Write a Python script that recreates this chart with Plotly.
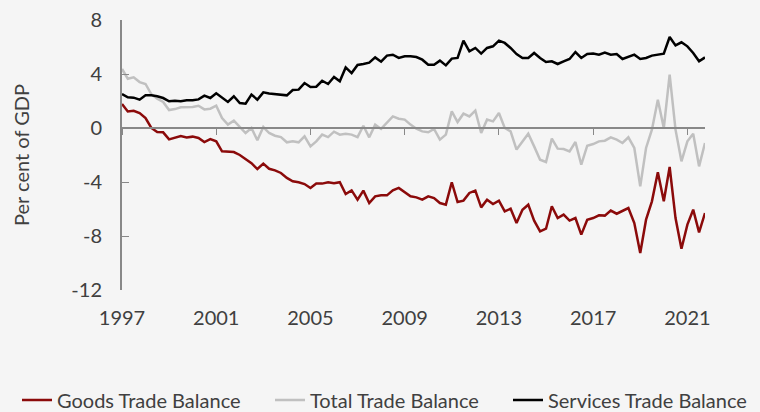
import pandas as pd
import plotly.graph_objects as go

quarters = pd.date_range("1997-01-01", periods=100, freq="QS")

goods = [1.78, 1.23, 1.28, 1.10, 0.74, 0.00, -0.30, -0.32, -0.84, -0.74,
         -0.60, -0.70, -0.64, -0.74, -1.04, -0.82, -0.99, -1.73, -1.75, -1.78,
         -2.00, -2.30, -2.60, -3.04, -2.64, -3.02, -3.14, -3.33, -3.70, -3.95,
         -4.02, -4.15, -4.44, -4.12, -4.12, -4.02, -4.10, -4.02, -4.89, -4.62,
         -5.31, -4.64, -5.56, -5.06, -4.99, -4.99, -4.62, -4.44, -4.77, -5.06,
         -5.14, -5.31, -5.06, -5.19, -5.56, -5.68, -4.02, -5.48, -5.38, -4.81,
         -4.64, -5.88, -5.31, -5.63, -5.38, -6.17, -5.98, -7.04, -6.05, -5.68,
         -6.86, -7.65, -7.46, -5.80, -6.67, -6.42, -6.86, -6.67, -7.90, -6.79,
         -6.67, -6.47, -6.49, -6.12, -6.35, -6.17, -5.93, -7.04, -9.26, -6.79,
         -5.43, -3.28, -5.43, -2.89, -6.67, -8.94, -7.16, -6.05, -7.73, -6.30]

total = [4.37, 3.65, 3.75, 3.40, 3.26, 2.50, 2.17, 1.93, 1.33, 1.40,
         1.53, 1.56, 1.56, 1.65, 1.38, 1.43, 1.65, 0.74, 0.25, 0.54,
         0.05, -0.37, 0.00, -0.91, 0.07, -0.37, -0.57, -0.67, -1.06, -0.99,
         -1.06, -0.62, -1.36, -0.99, -0.49, -0.67, -0.27, -0.49, -0.42, -0.49,
         -0.67, 0.17, -0.69, 0.25, -0.07, 0.37, 0.86, 0.69, 0.62, 0.25,
         -0.05, -0.25, -0.32, -0.07, -0.86, -0.49, 1.23, 0.44, 1.06, 0.86,
         1.28, -0.37, 0.62, 0.49, 1.11, 0.00, -0.25, -1.60, -0.99, -0.42,
         -1.36, -2.35, -2.52, -0.79, -1.53, -1.56, -1.73, -1.04, -2.72, -1.31,
         -1.19, -0.99, -0.94, -0.69, -0.86, -1.11, -0.69, -1.48, -4.32, -1.48,
         -0.12, 2.10, 0.00, 3.95, -0.12, -2.47, -0.99, -0.42, -2.84, -1.11]

services = [2.52, 2.27, 2.25, 2.10, 2.42, 2.42, 2.35, 2.22, 1.98, 2.02,
            1.98, 2.05, 2.05, 2.12, 2.40, 2.22, 2.57, 2.27, 1.93, 2.35,
            1.85, 1.80, 2.47, 2.10, 2.64, 2.55, 2.52, 2.47, 2.42, 2.81,
            2.84, 3.33, 3.04, 3.06, 3.50, 3.26, 3.78, 3.46, 4.49, 4.07,
            4.67, 4.74, 4.84, 5.23, 4.91, 5.36, 5.43, 5.19, 5.31, 5.31,
            5.26, 5.06, 4.69, 4.69, 4.99, 4.64, 5.14, 5.19, 6.47, 5.68,
            5.93, 5.51, 5.93, 6.05, 6.47, 6.30, 5.93, 5.48, 5.19, 5.19,
            5.56, 5.19, 4.89, 4.94, 4.74, 4.94, 5.11, 5.63, 5.19, 5.48,
            5.51, 5.43, 5.58, 5.43, 5.48, 5.11, 5.26, 5.43, 5.11, 5.19,
            5.36, 5.43, 5.51, 6.74, 6.12, 6.35, 6.05, 5.56, 4.94, 5.23]

series_names = ["Goods Trade Balance", "Total Trade Balance", "Services Trade Balance"]
series_colors = ["#8B0A0A", "#C0C0C0", "#000000"]
y_ticks = [8, 4, 0, -4, -8, -12]

FONT = "Lato"
TXT = "#404040"
AX = "#888888"
FS = 20
BG = "#F5F5F5"

legend_ids = ["legend", "legend2", "legend3"]
legend_left_px = [17, 270, 508]

fig = go.Figure()
for name, vals, col, lg in zip(series_names, [goods, total, services], series_colors, legend_ids):
    fig.add_trace(go.Scatter(x=quarters, y=vals, name=name, mode="lines",
                             line=dict(color=col, width=2.5), legend=lg))

# dummy trace to carry the bottom label axis
fig.add_trace(go.Scatter(x=[quarters[0], quarters[-1]], y=[None, None], xaxis="x2",
                         showlegend=False, hoverinfo="skip"))

xr = [quarters[0], quarters[-1]]
W, H = 760, 412
legend_cfg = {}
for lg, lx in zip(legend_ids, legend_left_px):
    legend_cfg[lg] = dict(orientation="h", xref="container", x=lx / W, xanchor="left",
                          yref="container", y=(H - 400) / H, yanchor="middle",
                          font=dict(family=FONT, size=FS, color=TXT),
                          bgcolor="rgba(0,0,0,0)", borderwidth=0)

fig.update_layout(
    width=W, height=H,
    paper_bgcolor=BG, plot_bgcolor=BG,
    margin=dict(l=122, r=55, t=20, b=122, autoexpand=False),
    font=dict(family=FONT, size=FS, color=TXT),
    showlegend=True,
    **legend_cfg,
    xaxis=dict(range=xr, type="date", showgrid=False, zeroline=False,
               showline=True, linecolor=AX, linewidth=2,
               ticks="outside", ticklen=6, tickcolor=AX, tickwidth=1,
               tick0="1997-01-01", dtick="M48", showticklabels=False,
               anchor="free", position=0.6),
    xaxis2=dict(range=xr, type="date", overlaying="x", side="bottom",
                showgrid=False, zeroline=False, showline=False, ticks="",
                tick0="1997-01-01", dtick="M48", tickformat="%Y",
                tickfont=dict(family=FONT, size=FS, color=TXT),
                ticklabelstandoff=14,
                anchor="y", matches="x"),
    yaxis=dict(range=[-12, 8], tickvals=y_ticks, ticktext=[str(v) for v in y_ticks],
               showgrid=False, zeroline=False, showline=True, linecolor=AX, linewidth=2,
               ticks="inside", ticklen=7, tickcolor=AX, tickwidth=1,
               ticklabelstandoff=14,
               tickfont=dict(family=FONT, size=FS, color=TXT),
               title=dict(text="Per cent of GDP", font=dict(family=FONT, size=FS, color=TXT),
                          standoff=36)),
)

fig.write_html("out.html", config={"displayModeBar": False},
               post_script="document.body.style.margin='0';document.body.style.overflow='hidden';document.body.style.background='#F5F5F5';")
